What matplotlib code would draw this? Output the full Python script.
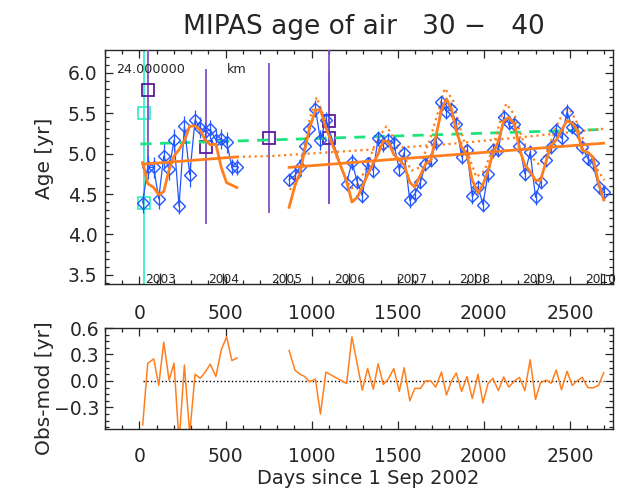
import numpy as np
import matplotlib
matplotlib.use("Agg")
import matplotlib.pyplot as plt
from matplotlib.ticker import MultipleLocator, AutoMinorLocator

# ================================
# data
# ================================
# MIPAS monthly means, first period (days since 1 Sep 2002)
days_a = [19, 48, 83, 112, 141, 172, 201, 230, 261, 292, 323, 353, 382, 411,
          444, 475, 506, 537, 566]
age_a = [4.39, 4.83, 4.83, 4.44, 4.97, 4.81, 5.17, 4.35, 5.34, 4.74, 5.42,
         5.32, 5.27, 5.30, 5.17, 5.18, 5.14, 4.84, 4.84]
err_a = [0.12, 0.14, 0.13, 0.12, 0.15, 0.13, 0.14, 0.10, 0.13, 0.15, 0.12,
         0.13, 0.12, 0.12, 0.12, 0.12, 0.13, 0.10, 0.10]
res_a = [-0.50, 0.20, 0.25, -0.05, 0.44, 0.01, 0.20, -0.70, 0.18, -0.60, 0.075,
         0.03, 0.10, 0.19, 0.05, 0.35, 0.50, 0.23, 0.26]

# second period
days_b = [869, 904, 933, 960, 987, 1022, 1051, 1083, 1203, 1234, 1265, 1294,
          1325, 1358, 1386, 1416, 1445, 1477, 1509, 1537, 1570, 1599, 1632,
          1661, 1692, 1721, 1754, 1783, 1812, 1840, 1871, 1902, 1933, 1966,
          1995, 2024, 2053, 2084, 2115, 2145, 2178, 2207, 2238, 2269, 2300,
          2329, 2362, 2391, 2420, 2451, 2483, 2513, 2542, 2571, 2604, 2633,
          2666, 2696]
age_b = [4.68, 4.73, 4.84, 5.10, 5.30, 5.56, 5.17, 5.42, 4.63, 4.90, 4.65, 4.48,
         4.88, 4.79, 5.19, 5.12, 5.17, 5.13, 4.80, 5.01, 4.42, 4.50, 4.65,
         4.87, 4.92, 5.14, 5.64, 5.52, 5.55, 5.37, 4.96, 5.04, 4.47, 4.59,
         4.37, 4.75, 5.04, 5.04, 5.45, 5.38, 5.37, 5.10, 4.75, 5.02, 4.46,
         4.65, 4.92, 5.08, 5.29, 5.19, 5.52, 5.33, 5.29, 5.08, 4.94, 4.88,
         4.59, 4.52]
err_b = [0.08, 0.09, 0.10, 0.10, 0.09, 0.10, 0.12, 0.10, 0.09, 0.10, 0.09, 0.09,
         0.08, 0.09, 0.09, 0.10, 0.09, 0.09, 0.08, 0.09, 0.09, 0.10, 0.09,
         0.08, 0.09, 0.09, 0.08, 0.09, 0.09, 0.08, 0.09, 0.08, 0.09, 0.09,
         0.09, 0.10, 0.09, 0.08, 0.09, 0.09, 0.08, 0.09, 0.09, 0.09, 0.09,
         0.09, 0.09, 0.08, 0.09, 0.09, 0.09, 0.08, 0.09, 0.09, 0.08, 0.09,
         0.09, 0.09]
res_b = [0.345, 0.12, 0.075, 0.05, -0.01, 0.02, -0.375, 0.10, -0.03, 0.50, 0.19,
         -0.105, 0.14, -0.094, 0.195, -0.04, 0.02, 0.14, -0.12, 0.15, -0.225,
         -0.085, -0.085, 0.0, 0.0, -0.07, 0.10, -0.16, 0.0, 0.09, -0.12, 0.05,
         -0.20, 0.075, -0.25, -0.03, 0.03, -0.11, 0.045, -0.07, 0.0, 0.04,
         -0.11, 0.24, -0.21, -0.02, 0.01, -0.026, 0.124, -0.10, 0.11, -0.05,
         0.0, 0.04, -0.075, -0.08, -0.05, 0.094]

# second fit (dotted seasonal curve)
days_fit2 = [875, 904, 952, 991, 1029, 1087, 1145, 1203, 1232, 1271, 1319, 1377,
             1435, 1483, 1531, 1580, 1628, 1686, 1725, 1773, 1821, 1860, 1908,
             1956, 2004, 2053, 2101, 2130, 2178, 2226, 2275, 2323, 2371, 2420,
             2468, 2497, 2545, 2593, 2651, 2700]
age_fit2 = [4.55, 4.70, 5.04, 5.45, 5.70, 5.37, 4.96, 4.67, 4.57, 4.63, 4.83,
            5.17, 5.34, 5.17, 4.98, 4.79, 4.83, 5.17, 5.45, 5.81, 5.66, 5.33,
            5.00, 4.71, 4.79, 5.08, 5.45, 5.62, 5.48, 5.17, 4.96, 4.86, 5.04,
            5.33, 5.54, 5.56, 5.37, 5.08, 4.83, 4.67]

# trend lines
trend_a_days = [19, 566]
trend_a_age = [4.87, 4.96]
trend_b_days = [869, 2696]
trend_b_age = [4.83, 5.13]
trend_dot_days = [566, 760, 1340, 1800, 2200, 2700]
trend_dot_age = [4.96, 4.97, 5.05, 5.12, 5.20, 5.31]
trend_green_days = [6, 2690]
trend_green_age = [5.12, 5.30]

# other instruments
purple_days = [48, 385, 753, 1102, 1102]
purple_age = [5.79, 5.08, 5.20, 5.40, 5.20]
purple_lo = [1.00, 0.95, 0.94, 1.02, 0.82]
purple_hi = [1.00, 0.97, 0.92, 1.30, 0.82]
cyan_days = [28, 28]
cyan_age = [5.50, 4.39]
cyan_err = [0.0, 3.0]

year_days = [122, 487, 853, 1218, 1583, 1948, 2314, 2679]
year_labels = ["2003", "2004", "2005", "2006", "2007", "2008", "2009", "2010"]

# colours
c_orange = "#ff7f1e"
c_blue = "#2456ff"
c_purple = "#5a1c9c"
c_purple_l = "#8050c8"
c_cyan = "#3cf0c4"
c_green = "#1ee47c"
c_axis = "#262626"

model_a = np.array(age_a) - np.array(res_a)
model_b = np.array(age_b) - np.array(res_b)

# ================================
# figure
# ================================
W, H = 617, 492
fig = plt.figure(figsize=(W / 100, H / 100), dpi=100)
ax1 = fig.add_axes([105 / W, 1 - 284 / H, 508 / W, 234 / H])
ax2 = fig.add_axes([105 / W, 1 - 429 / H, 508 / W, 101 / H])

for ax in (ax1, ax2):
    ax.set_xlim(-200, 2750)
    ax.xaxis.set_major_locator(MultipleLocator(500))
    ax.xaxis.set_minor_locator(MultipleLocator(100))
    ax.tick_params(which="both", direction="in", top=True, right=True,
                   colors=c_axis, labelsize=13.5)
    ax.tick_params(which="major", length=6, width=0.9)
    ax.tick_params(which="minor", length=3, width=0.9)
    for s in ax.spines.values():
        s.set_linewidth(1.0)
        s.set_color(c_axis)

# ---- top panel
ax1.set_ylim(3.385, 6.285)
ax1.yaxis.set_major_locator(MultipleLocator(0.5))
ax1.yaxis.set_minor_locator(MultipleLocator(0.1))
ax1.yaxis.set_major_formatter("{x:.1f}")
ax1.tick_params(axis="x", pad=14.5)
ax1.tick_params(axis="y", pad=5.5)

ax1.errorbar(cyan_days, cyan_age, yerr=cyan_err, fmt="s", ms=8, mfc="none",
             mec=c_cyan, mew=1.3, ecolor=c_cyan, elinewidth=1.3, capsize=0, zorder=2)
ax1.errorbar(purple_days, purple_age, yerr=[purple_lo, purple_hi], fmt="s", ms=8,
             mfc="none", mec=c_purple, mew=1.3, ecolor=c_purple_l,
             elinewidth=1.3, capsize=0, zorder=3)

ax1.plot(trend_green_days, trend_green_age, "--", color=c_green, lw=2, dashes=(4, 3), zorder=4)
ax1.plot(trend_dot_days, trend_dot_age, ":", color=c_orange, lw=1.6, zorder=4)
ax1.plot(days_fit2, age_fit2, ":", color=c_orange, lw=1.6, zorder=4)

for d, a, e in ((days_a, age_a, err_a), (days_b, age_b, err_b)):
    ax1.errorbar(d, a, yerr=e, fmt="-D", color=c_blue, ms=6, mfc="none",
                 mew=1.0, lw=0.9, elinewidth=0.9, capsize=0, zorder=5)

ax1.plot(days_a, model_a, "-", color=c_orange, lw=2, zorder=6)
ax1.plot(days_b, model_b, "-", color=c_orange, lw=2, zorder=6)
ax1.plot(trend_a_days, trend_a_age, "-", color=c_orange, lw=2, zorder=6)
ax1.plot(trend_b_days, trend_b_age, "-", color=c_orange, lw=2, zorder=6)

# year marks inside the panel
sec = ax1.secondary_xaxis("bottom")
sec.set_xticks(year_days, labels=year_labels)
sec.tick_params(direction="in", length=8, width=0.9, pad=-7.6,
                labelsize=8.8, colors=c_axis)
sec.spines["bottom"].set_visible(False)

ax1.text(0.022, 0.915, "24.000000", transform=ax1.transAxes, fontsize=9.2,
         color=c_axis, va="center")
ax1.text(0.24, 0.915, "km", transform=ax1.transAxes, fontsize=9.2,
         color=c_axis, va="center")

# ---- bottom panel
ax2.set_ylim(-0.545, 0.6)
ax2.yaxis.set_major_locator(MultipleLocator(0.3))
ax2.yaxis.set_minor_locator(AutoMinorLocator(4))
ax2.yaxis.set_major_formatter("{x:.1f}")
ax2.tick_params(axis="x", pad=12.8)
ax2.tick_params(axis="y", pad=4)

ax2.hlines(0, min(days_a), max(days_b), colors="k", linestyles=":", lw=1)
ax2.plot(days_a, res_a, "-", color=c_orange, lw=1.1)
ax2.plot(days_b, res_b, "-", color=c_orange, lw=1.1)

# ---- texts
fig.text(364 / W, 1 - 27 / H, "MIPAS age of air   30 \u2212   40", ha="center",
         va="center", fontsize=19, color=c_axis)
fig.text(44 / W, 1 - 158 / H, "Age [yr]", rotation=90, ha="center", va="center",
         fontsize=14.5, color=c_axis)
fig.text(44 / W, 1 - 388 / H, "Obs-mod [yr]", rotation=90, ha="center",
         va="center", fontsize=14.5, color=c_axis)
fig.text(368 / W, 1 - 478 / H, "Days since 1 Sep 2002", ha="center", va="center",
         fontsize=14, color=c_axis)

fig.savefig("out.png", dpi=100)
